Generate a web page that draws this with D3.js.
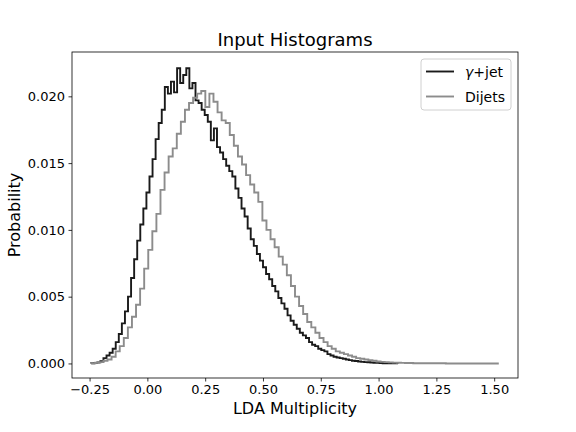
<!DOCTYPE html>
<html>
<head>
<meta charset="utf-8">
<script src="https://cdn.jsdelivr.net/npm/d3@7"></script>
<style>
  body { margin: 0; background: #fff; }
  svg { display: block; font-family: "DejaVu Sans", sans-serif; }
</style>
</head>
<body>
<div id="chart"></div>
<script>
// bin ranges (100 bins each)
const gammaRange = [-0.243, 1.084];
const dijetRange = [-0.243, 1.52];

// gamma+jet probabilities per bin
const gammaJet = [
  0.00002, 0.00004, 0.00008, 0.00016, 0.0004, 0.0006, 0.0008, 0.0011, 0.0016, 0.0022,
  0.0030, 0.0039, 0.0050, 0.0064, 0.0078, 0.0092, 0.0104, 0.0116, 0.0128, 0.0140,
  0.0153, 0.0168, 0.0180, 0.0190, 0.0207, 0.0202, 0.0211, 0.0203, 0.0221, 0.0210,
  0.0216, 0.0221, 0.0206, 0.0210, 0.0197, 0.0195, 0.0190, 0.0186, 0.0181, 0.0167,
  0.0176, 0.0162, 0.0158, 0.0153, 0.0148, 0.0144, 0.0140, 0.0131, 0.0124, 0.0116,
  0.0110, 0.0101, 0.0093, 0.0088, 0.0082, 0.0077, 0.0072, 0.0067, 0.0063, 0.0058,
  0.0054, 0.0049, 0.0045, 0.0041, 0.0036, 0.0032, 0.0029, 0.0026, 0.0023, 0.0021,
  0.0019, 0.0016, 0.0014, 0.0013, 0.0011, 0.0010, 0.0009, 0.0007, 0.0006, 0.0005,
  0.00045, 0.0004, 0.00035, 0.0003, 0.00025, 0.0002, 0.00018, 0.00015, 0.00012, 0.0001,
  0.00009, 0.00007, 0.00005, 0.00004, 0.00003, 0.00002, 0.00002, 0.00001, 0.00001, 0.00001
];

// dijet probabilities per bin
const dijets = [
  0.00002, 0.00005, 0.0001, 0.0002, 0.0003, 0.0005, 0.0009, 0.0013, 0.0019, 0.0027,
  0.0035, 0.0044, 0.0056, 0.0071, 0.0085, 0.0099, 0.0112, 0.0130, 0.0143, 0.0155,
  0.0161, 0.0172, 0.0181, 0.0190, 0.0195, 0.0199, 0.0202, 0.0204, 0.0192, 0.0202,
  0.0196, 0.0188, 0.0182, 0.0180, 0.0171, 0.0163, 0.0155, 0.0149, 0.0141, 0.0134,
  0.0128, 0.0121, 0.0107, 0.0100, 0.0093, 0.0087, 0.0080, 0.0074, 0.0066, 0.0058,
  0.0050, 0.0043, 0.0037, 0.0031, 0.0027, 0.0023, 0.0019, 0.0016, 0.0013, 0.0011,
  0.0009, 0.0008, 0.0007, 0.0006, 0.0005, 0.0004, 0.00035, 0.0003, 0.00025, 0.0002,
  0.00015, 0.00012, 0.0001, 0.00008, 0.00006, 0.00005, 0.00004, 0.00003, 0.00003, 0.00002,
  0.00002, 0.00002, 0.00001, 0.00001, 0.00001, 0.00001, 0.00001, 0, 0, 0,
  0, 0, 0, 0, 0, 0, 0, 0, 0, 0
];

// legend labels: [italic part, plain part]
const seriesNames = [["\u03b3", "+jet"], ["", "Dijets"]];
const seriesColors = ["#1a1a1a", "#8c8c8c"];
const xTicks = [-0.25, 0, 0.25, 0.5, 0.75, 1.0, 1.25, 1.5];
const yTicks = [0, 0.005, 0.01, 0.015, 0.02];

const width = 576;
const height = 432;
const margin = { top: 52, right: 58, bottom: 54, left: 72 };

const x = d3.scaleLinear()
  .domain([-0.326, 1.603])
  .range([margin.left, width - margin.right]);

const y = d3.scaleLinear()
  .domain([-0.00109, 0.02332])
  .range([height - margin.bottom, margin.top]);

const svg = d3.select("#chart")
  .append("svg")
    .attr("width", width)
    .attr("height", height);

// turn bin values into step outline points
function stepPoints(values, range) {
  const w = (range[1] - range[0]) / values.length;
  const pts = [[range[0], 0]];
  values.forEach((v, i) => pts.push([range[0] + i * w, v]));
  pts.push([range[1], values[values.length - 1]]);
  pts.push([range[1], 0]);
  return pts;
}

const line = d3.line()
  .x(d => x(d[0]))
  .y(d => y(d[1]))
  .curve(d3.curveStepAfter);

const series = [
  { name: seriesNames[0], color: seriesColors[0], pts: stepPoints(gammaJet, gammaRange) },
  { name: seriesNames[1], color: seriesColors[1], pts: stepPoints(dijets, dijetRange) }
];

svg.append("g")
  .selectAll("path")
  .data(series)
  .join("path")
    .attr("fill", "none")
    .attr("stroke", d => d.color)
    .attr("stroke-width", 1.9)
    .attr("stroke-linejoin", "miter")
    .attr("d", d => line(d.pts));

// axes
const fmtX = v => d3.format(".2f")(v).replace("-", "\u2212");

const xAxis = svg.append("g")
  .attr("transform", `translate(0,${height - margin.bottom})`)
  .call(d3.axisBottom(x).tickValues(xTicks).tickFormat(fmtX).tickSize(3.5).tickPadding(3.5));

const yAxis = svg.append("g")
  .attr("transform", `translate(${margin.left},0)`)
  .call(d3.axisLeft(y).tickValues(yTicks).tickFormat(d3.format(".3f")).tickSize(3.5).tickPadding(3.5));

[xAxis, yAxis].forEach(g => {
  g.attr("font-size", null).attr("font-family", null);
  g.select(".domain").remove();
  g.selectAll("line").attr("stroke", "#000").attr("stroke-width", 0.8);
  g.selectAll("text")
    .attr("fill", "#000")
    .style("font-size", "13px")
    .style("font-family", "DejaVu Sans, sans-serif");
});

// frame
svg.append("rect")
  .attr("x", margin.left)
  .attr("y", margin.top)
  .attr("width", width - margin.left - margin.right)
  .attr("height", height - margin.top - margin.bottom)
  .attr("fill", "none")
  .attr("stroke", "#000")
  .attr("stroke-width", 0.8);

// title and labels
svg.append("text")
  .attr("x", (margin.left + width - margin.right) / 2)
  .attr("y", 46)
  .attr("text-anchor", "middle")
  .style("font-size", "18px")
  .text("Input Histograms");

svg.append("text")
  .attr("x", (margin.left + width - margin.right) / 2)
  .attr("y", 414)
  .attr("text-anchor", "middle")
  .style("font-size", "16px")
  .text("LDA Multiplicity");

svg.append("text")
  .attr("transform", `translate(20,${(margin.top + height - margin.bottom) / 2}) rotate(-90)`)
  .attr("text-anchor", "middle")
  .style("font-size", "16px")
  .text("Probability");

// legend
const legend = svg.append("g")
  .attr("transform", "translate(421,59)");

legend.append("rect")
  .attr("width", 90)
  .attr("height", 51)
  .attr("rx", 3)
  .attr("fill", "#fff")
  .attr("fill-opacity", 0.8)
  .attr("stroke", "#d0d0d0")
  .attr("stroke-width", 1);

const item = legend.selectAll("g.item")
  .data(series)
  .join("g")
    .attr("class", "item")
    .attr("transform", (d, i) => `translate(0,${12.5 + i * 25})`);

item.append("line")
  .attr("x1", 5)
  .attr("x2", 33)
  .attr("stroke", d => d.color)
  .attr("stroke-width", 1.9);

const label = item.append("text")
  .attr("x", 44)
  .attr("y", 5)
  .style("font-size", "14px");

label.append("tspan")
  .style("font-style", "italic")
  .text(d => d.name[0]);

label.append("tspan")
  .text(d => d.name[1]);
</script>
</body>
</html>
